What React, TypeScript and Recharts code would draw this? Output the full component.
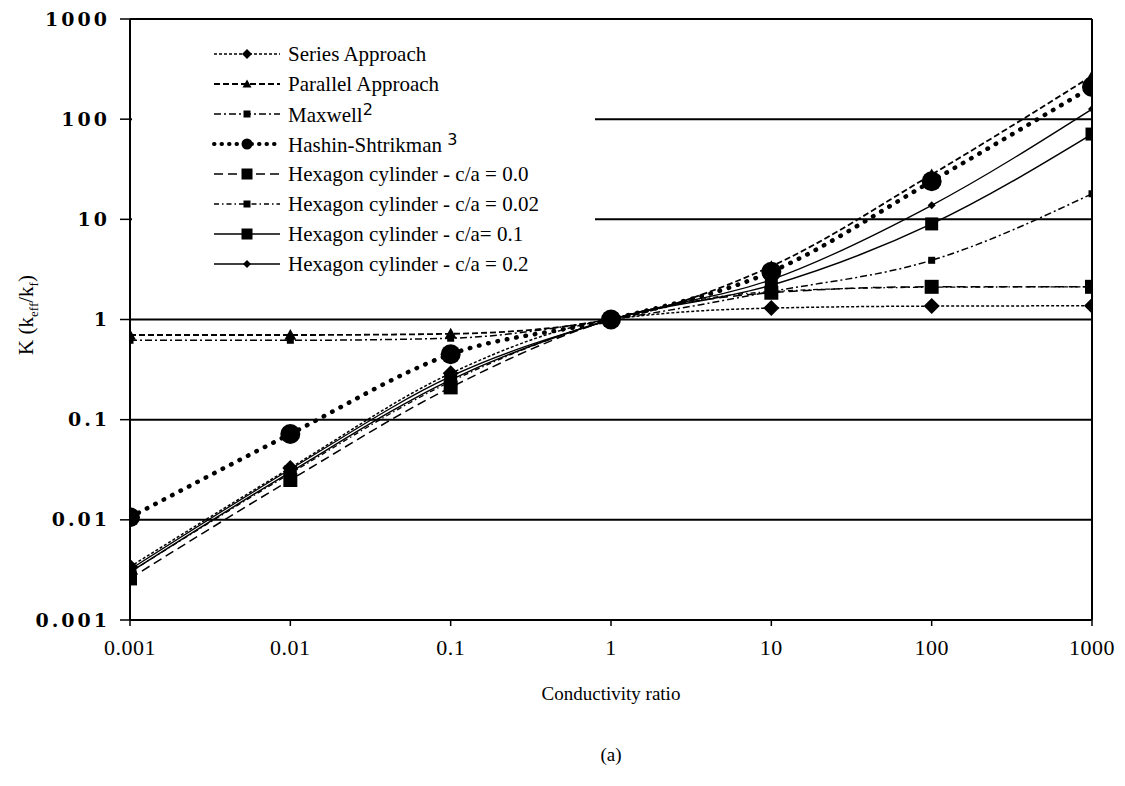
import React from 'react';
import { LineChart, Line, XAxis, YAxis, CartesianGrid, ReferenceLine } from 'recharts';

// conductivity ratio (x) and K = k_eff / k_f
const ratios = [0.001, 0.01, 0.1, 1, 10, 100, 1000];
const seriesApproach = [0.0034, 0.033, 0.29, 1, 1.3, 1.36, 1.37];
const parallelApproach = [0.7, 0.7, 0.72, 1, 3.4, 28, 270];
const maxwell = [0.62, 0.62, 0.65, 1, 1.9, 3.9, 18];
const hashinShtrikman = [0.0106, 0.072, 0.45, 1, 3.0, 24, 210];
const hexC00 = [0.0026, 0.025, 0.21, 1, 1.85, 2.12, 2.12];
const hexC002 = [0.003, 0.029, 0.24, 1, 1.9, 2.1, 2.12];
const hexC01 = [0.003, 0.03, 0.25, 1, 2.2, 9.0, 71];
const hexC02 = [0.0032, 0.032, 0.27, 1, 2.5, 13.8, 126];

const xTicks = [0.001, 0.01, 0.1, 1, 10, 100, 1000];
const xTickLabels = ['0.001', '0.01', '0.1', '1', '10', '100', '1000'];
const yTicks = [0.001, 0.01, 0.1, 1, 10, 100, 1000];
const yTickLabels = ['0.001', '0.01', '0.1', '1', '10', '100', '1000'];

const data = ratios.map((r, i) => ({
  ratio: r,
  series: seriesApproach[i],
  parallel: parallelApproach[i],
  maxwell: maxwell[i],
  hs: hashinShtrikman[i],
  c00: hexC00[i],
  c002: hexC002[i],
  c01: hexC01[i],
  c02: hexC02[i],
}));

type Shape = 'diamond' | 'triangle' | 'square' | 'circle';

const markerPath = (shape: Shape, cx: number, cy: number, s: number) => {
  const h = s / 2;
  if (shape === 'diamond') return `M${cx},${cy - h}L${cx + h},${cy}L${cx},${cy + h}L${cx - h},${cy}Z`;
  if (shape === 'triangle') return `M${cx},${cy - h}L${cx + h},${cy + h * 0.8}L${cx - h},${cy + h * 0.8}Z`;
  return `M${cx - h},${cy - h}h${s}v${s}h${-s}Z`;
};

const Marker = ({ shape, cx, cy, size }: { shape: Shape; cx: number; cy: number; size: number }) =>
  shape === 'circle' ? (
    <circle cx={cx} cy={cy} r={size / 2} fill="#000" />
  ) : (
    <path d={markerPath(shape, cx, cy, size)} fill="#000" />
  );

const dotFor = (shape: Shape, size: number) => (props: any) => {
  const { cx, cy, index } = props;
  if (cx == null || cy == null) return <g key={index} />;
  return <Marker key={index} shape={shape} cx={cx} cy={cy} size={size} />;
};

const lines = [
  { key: 'series', name: 'Series Approach', dash: '3 2', width: 1.5, shape: 'diamond' as Shape, size: 16, legSize: 10 },
  { key: 'parallel', name: 'Parallel Approach', dash: '6 3', width: 1.8, shape: 'triangle' as Shape, size: 12, legSize: 9 },
  { key: 'maxwell', name: 'Maxwell', sup: '2', dash: '7 3 2 3', width: 1.5, shape: 'square' as Shape, size: 7, legSize: 7 },
  { key: 'hs', name: 'Hashin-Shtrikman ', sup: '3', dash: '0.5 9', width: 4.5, cap: 'round', shape: 'circle' as Shape, size: 20, legSize: 11 },
  { key: 'c00', name: 'Hexagon cylinder - c/a = 0.0', dash: '9 5', width: 1.5, shape: 'square' as Shape, size: 14, legSize: 11 },
  { key: 'c002', name: 'Hexagon cylinder - c/a = 0.02', dash: '5 3 1.5 3', width: 1.3, shape: 'square' as Shape, size: 6, legSize: 7 },
  { key: 'c01', name: 'Hexagon cylinder - c/a= 0.1', dash: '', width: 1.5, shape: 'square' as Shape, size: 13, legSize: 11 },
  { key: 'c02', name: 'Hexagon cylinder - c/a = 0.2', dash: '', width: 1.3, shape: 'diamond' as Shape, size: 8, legSize: 8 },
];

const serif = '"Liberation Serif", "DejaVu Serif", serif';

const XTick = (props: any) => {
  const { x, y, payload } = props;
  const i = xTicks.indexOf(payload.value);
  return (
    <text x={x} y={y + 27} textAnchor="middle" fontFamily={serif} fontSize={22} fill="#000" letterSpacing={0.5}>
      {xTickLabels[i]}
    </text>
  );
};

const YTick = (props: any) => {
  const { x, y, payload } = props;
  const i = yTicks.indexOf(payload.value);
  return (
    <text x={x} y={y} dy="0.35em" textAnchor="end" fontFamily='"DejaVu Serif", serif' fontWeight="bold" fontSize={19} fill="#000" letterSpacing={3}>
      {yTickLabels[i]}
    </text>
  );
};

const LegendBox = () => (
  <div
    style={{
      position: 'absolute', left: 124, top: 14, width: 463, height: 262,
      background: '#fff', fontFamily: serif, fontSize: 21, color: '#000',
    }}
  >
    {lines.map((l, i) => (
      <div key={l.key} style={{ position: 'absolute', left: 80, top: 20 + i * 30, height: 24, display: 'flex', alignItems: 'center', whiteSpace: 'nowrap' }}>
        <svg width={70} height={24} style={{ marginRight: 6 }}>
          <line x1={2} y1={12} x2={68} y2={12} stroke="#000" strokeWidth={l.key === 'hs' ? 4 : l.width}
            strokeDasharray={l.key === 'hs' ? '0.5 7' : l.dash || undefined} strokeLinecap={l.cap === 'round' ? 'round' : 'butt'} />
          <Marker shape={l.shape} cx={35} cy={12} size={l.legSize} />
        </svg>
        <span>
          {l.name}
          {l.sup ? <span style={{ fontFamily: '"DejaVu Sans", sans-serif', fontSize: 16, verticalAlign: 7 }}>{l.sup}</span> : null}
        </span>
      </div>
    ))}
  </div>
);

export default function App() {
  return (
    <div style={{ position: 'relative', width: 1110, height: 770 }}>
      <LineChart width={1110} height={770} data={data} margin={{ top: 11, right: 26, bottom: 0, left: 0 }}>
        <CartesianGrid horizontal vertical={false} stroke="#000" strokeWidth={2} />
        <XAxis
          dataKey="ratio"
          type="number"
          scale="log"
          domain={[0.001, 1000]}
          ticks={xTicks}
          allowDataOverflow
          height={158}
          axisLine={{ stroke: '#000', strokeWidth: 2 }}
          tickLine={{ stroke: '#000', strokeWidth: 1.5 }}
          tickSize={6}
          tick={<XTick />}
          interval={0}
        />
        <YAxis
          type="number"
          scale="log"
          domain={[0.001, 1000]}
          ticks={yTicks}
          allowDataOverflow
          width={122}
          axisLine={{ stroke: '#000', strokeWidth: 2 }}
          tickLine={{ stroke: '#000', strokeWidth: 1.5 }}
          tickSize={10}
          tickMargin={10}
          tick={<YTick />}
          interval={0}
        />
        <ReferenceLine x={1000} stroke="#000" strokeWidth={2} ifOverflow="visible" />
        {lines.map((l) => (
          <Line
            key={l.key}
            dataKey={l.key}
            name={l.name}
            type="monotone"
            stroke="#000"
            strokeWidth={l.width}
            strokeDasharray={l.dash || undefined}
            strokeLinecap={l.cap === 'round' ? 'round' : 'butt'}
            dot={dotFor(l.shape, l.size)}
            activeDot={false}
            isAnimationActive={false}
          />
        ))}
      </LineChart>
      <LegendBox />
      <div
        style={{
          position: 'absolute', left: 20, top: 307, transform: 'translate(-50%, -50%) rotate(-90deg)',
          fontFamily: serif, fontSize: 21, whiteSpace: 'nowrap', color: '#000',
        }}
      >
        K (k<sub style={{ fontSize: 13 }}>eff</sub>/k<sub style={{ fontSize: 13 }}>f</sub>)
      </div>
      <div style={{ position: 'absolute', left: 603, top: 686, transform: 'translate(-50%, -50%)', fontFamily: serif, fontSize: 19, whiteSpace: 'nowrap', color: '#000' }}>
        Conductivity ratio
      </div>
      <div style={{ position: 'absolute', left: 603, top: 747, transform: 'translate(-50%, -50%)', fontFamily: serif, fontSize: 19, color: '#000' }}>
        (a)
      </div>
    </div>
  );
}
